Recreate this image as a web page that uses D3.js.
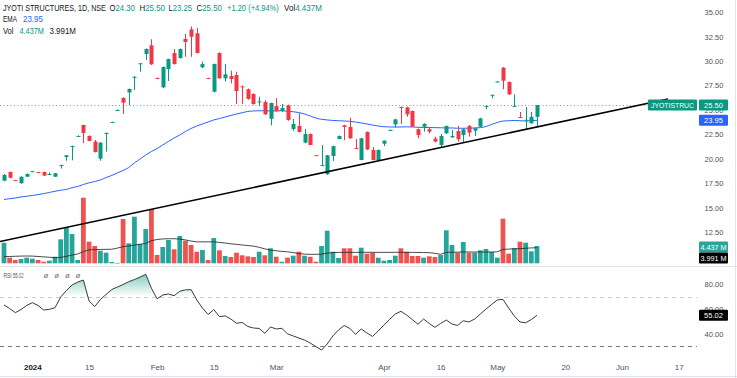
<!DOCTYPE html>
<html><head><meta charset="utf-8">
<script src="https://cdn.jsdelivr.net/npm/d3@7"></script>
<style>
html,body{margin:0;padding:0;background:#fff;}
svg{display:block;font-family:"Liberation Sans",Arial,sans-serif;}
</style></head>
<body><svg id="c" width="737" height="378"></svg>
<script>
// ---------- DATA ----------
const dates = ["2023-12-22","2023-12-26","2023-12-27","2023-12-28","2023-12-29","2024-01-01","2024-01-02","2024-01-03","2024-01-04","2024-01-05",
"2024-01-08","2024-01-09","2024-01-10","2024-01-11","2024-01-12","2024-01-15","2024-01-16","2024-01-17","2024-01-18","2024-01-19",
"2024-01-20","2024-01-23","2024-01-24","2024-01-25","2024-01-29","2024-01-30","2024-01-31","2024-02-01","2024-02-02","2024-02-05",
"2024-02-06","2024-02-07","2024-02-08","2024-02-09","2024-02-12","2024-02-13","2024-02-14","2024-02-15","2024-02-16","2024-02-19",
"2024-02-20","2024-02-21","2024-02-22","2024-02-23","2024-02-26","2024-02-27","2024-02-28","2024-02-29","2024-03-01","2024-03-02",
"2024-03-04","2024-03-05","2024-03-06","2024-03-07","2024-03-11","2024-03-12","2024-03-13","2024-03-14","2024-03-15","2024-03-18",
"2024-03-19","2024-03-20","2024-03-21","2024-03-22","2024-03-26","2024-03-27","2024-03-28","2024-04-01","2024-04-02","2024-04-03",
"2024-04-04","2024-04-05","2024-04-08","2024-04-09","2024-04-10","2024-04-12","2024-04-15","2024-04-16","2024-04-18","2024-04-19",
"2024-04-22","2024-04-23","2024-04-24","2024-04-25","2024-04-26","2024-04-29","2024-04-30","2024-05-02","2024-05-03","2024-05-06",
"2024-05-07","2024-05-08","2024-05-09","2024-05-10","2024-05-13"];

const opens = [17.76,18.65,17.82,17.5,18.17,18.7,18.64,18.65,18.42,18.17,
19.3,20.19,21.25,22.3,23.46,22.34,21.76,20.02,22.6,23.74,
24.97,26.23,26.8,28.35,29.75,30.73,31.62,28.28,27.32,29.2,
30.83,30.32,32.27,33.25,32.85,29.37,28.26,26.87,30.83,28.24,
28.48,28.58,27.42,27.12,26.64,25.82,25.82,24.1,25.4,24.9,
25.48,23.06,23.36,21.66,22.54,20.38,19.3,18.42,20.29,22.03,
23.43,23.26,21.1,19.88,22.75,20.91,19.88,21.55,22.93,23.53,
25.3,25.27,24.9,23.03,23.29,23.03,22.07,21.42,22.61,22.2,
22.85,22.44,23.36,22.88,23.29,25.38,26.5,27.88,29.33,27.87,
25.38,24.28,23.9,23.64,24.30];
const highs = [18.45,18.7,17.85,18.2,18.5,18.75,18.66,18.7,18.6,18.55,
19.4,20.4,21.35,22.4,23.5,22.4,21.93,21.7,22.7,23.8,
25.05,26.3,27.2,28.45,29.8,31.3,32.24,28.3,29.45,30.25,
31.24,31.3,32.78,33.55,33.4,29.95,28.3,29.75,30.9,29.71,
29.02,28.92,27.5,27.2,26.7,26.36,26.0,25.75,26.2,25.61,
25.55,24.08,24.66,23.06,22.6,20.4,21.42,20.4,21.35,22.4,
23.5,24.21,22.03,22.15,22.8,21.21,20.95,21.9,23.0,24.1,
25.35,25.35,24.95,23.1,23.65,23.23,22.27,22.54,23.4,22.96,
23.36,23.1,23.47,23.2,24.2,25.45,26.58,27.95,29.4,27.9,
26.6,24.8,25.3,24.8,25.50];
const lows = [17.7,18.0,17.75,17.45,18.15,18.68,18.6,18.25,18.35,18.15,
19.0,19.8,19.85,22.25,21.6,21.8,20.65,19.81,20.73,23.7,
24.9,24.6,25.5,27.05,28.92,30.12,29.6,28.15,27.25,27.97,
29.65,30.25,30.45,30.45,30.8,29.3,28.2,26.8,28.2,27.9,
27.73,25.61,25.6,26.05,25.55,25.4,24.5,23.43,24.85,24.8,
23.9,22.88,22.7,21.6,21.38,20.3,19.25,18.35,19.78,22.0,
21.93,22.05,21.0,19.85,20.9,19.85,19.85,21.31,22.9,23.19,
23.57,24.31,23.25,22.1,22.78,22.61,21.7,21.18,22.55,22.15,
21.76,21.66,22.27,22.34,23.25,25.07,26.2,27.85,27.12,26.55,
25.35,24.2,23.02,23.6,23.25];
const closes = [18.35,18.07,17.78,18.17,18.45,18.73,18.6,18.28,18.45,18.52,
19.36,20.36,21.3,22.34,22.65,21.83,20.7,21.66,22.65,23.77,
25.0,25.75,27.15,28.4,29.78,31.24,29.68,28.22,29.4,30.22,
29.71,31.24,31.96,32.5,30.83,29.7,28.22,29.71,28.24,28.65,
28.17,26.94,27.36,26.13,25.61,25.88,24.56,25.72,24.9,25.2,
23.98,23.57,22.75,22.54,21.42,20.34,19.36,20.36,21.3,22.34,
23.26,22.1,21.04,22.1,20.96,19.88,20.91,21.86,22.96,24.04,
25.25,24.56,23.3,22.44,23.57,22.78,21.76,22.34,23.36,22.34,
22.0,23.03,22.68,23.13,24.14,25.42,26.55,27.92,28.0,26.6,
25.42,24.22,24.0,24.30,25.50];
// volume in millions
const volumes = [5.28,1.44,0.85,1.1,1.44,1.18,0.85,0.41,0.67,1.69,
6.15,9.23,7.51,0.85,16.82,5.54,4.44,3.23,2.72,0.33,
0.1,11.36,5.13,11.95,4.95,8.79,13.92,2.13,4.18,5.97,
3.59,7.0,5.79,4.69,2.97,3.41,0.85,6.49,3.33,1.87,
1.62,2.72,2.05,1.79,1.62,2.97,2.05,3.85,1.69,0.41,
1.44,1.95,2.97,1.95,1.69,0.41,4.44,8.36,2.97,1.36,
3.85,3.85,1.95,4.0,2.46,2.72,1.44,0.67,0.85,1.95,
3.85,2.97,1.87,1.87,1.44,1.79,1.62,2.13,8.46,4.69,
2.72,5.46,2.72,2.72,3.33,3.67,2.9,1.44,11.44,2.46,
3.92,5.54,5.28,3.08,4.437];
const volumeMA = [1.7,1.75,1.8,1.85,1.87,1.85,1.75,1.65,1.55,1.45,
1.5,1.8,2.1,2.4,3.0,3.45,3.5,3.55,3.58,3.6,
3.9,4.25,4.45,4.65,4.9,5.1,5.8,6.1,6.25,6.3,
6.3,6.2,6.0,5.7,5.5,5.5,5.5,5.5,5.35,5.2,
5.0,4.85,4.7,4.55,4.4,4.1,3.7,3.4,3.2,3.05,
2.95,2.75,2.5,2.35,2.3,2.3,2.35,2.6,2.75,2.8,
2.8,2.8,2.8,2.82,2.82,2.82,2.8,2.8,2.8,2.82,
2.82,2.8,2.8,2.78,2.75,2.72,2.55,2.32,2.8,2.85,
2.85,2.9,2.9,2.9,2.9,2.9,2.9,2.95,3.55,3.65,
3.7,3.75,3.85,3.95,3.991];
const ema = [15.84,15.92,15.99,16.1,16.17,16.25,16.34,16.44,16.56,16.68,
16.79,16.87,17.04,17.17,17.37,17.55,17.68,17.84,18.09,18.3,
18.55,18.81,19.11,19.58,19.98,20.39,20.75,21.06,21.42,21.78,
22.13,22.44,22.8,23.11,23.36,23.57,23.77,23.98,24.13,24.28,
24.44,24.59,24.72,24.85,24.9,24.92,24.92,24.9,24.9,24.92,
24.87,24.82,24.74,24.59,24.39,24.18,24.05,23.98,23.93,23.9,
23.87,23.84,23.77,23.67,23.57,23.46,23.36,23.29,23.26,23.26,
23.26,23.28,23.26,23.23,23.21,23.21,23.19,23.18,23.16,23.16,
23.13,23.13,23.14,23.16,23.19,23.31,23.52,23.72,23.87,23.9,
23.93,23.9,23.87,23.9,23.95];
const rsi = [63.3,60.4,57.1,59.6,62.9,65.1,62.9,59.2,59.8,61.1,
69.7,74.9,79.3,81.7,83.3,66.5,62.0,67.7,71.7,75.7,
77.7,79.7,82.0,83.7,85.7,87.9,76.7,68.2,71.3,72.1,
70.7,74.3,75.4,75.6,67.3,60.8,55.6,59.6,53.9,54.5,
52.0,48.6,49.2,46.0,44.8,44.4,40.5,45.6,44.0,44.5,
40.1,38.4,36.7,35.1,32.7,29.9,27.1,31.9,38.4,43.2,
46.8,44.4,39.7,44.0,40.8,38.0,42.4,47.2,51.6,56.0,
58.2,55.2,51.6,47.8,52.0,48.4,45.3,48.4,51.2,48.0,
46.8,50.6,49.6,52.0,56.0,60.0,63.7,67.3,67.8,60.8,
54.4,49.6,49.0,51.6,55.02];

const priceTicks = [12.5,15,17.5,20,22.5,25,27.5,30,32.5,35];
const rsiTicks = [40,60,80];
const rsiBands = [70,30];
const timeTickLabels = ["2024","15","Feb","15","Mar","Apr","16","May","20","Jun","17"];
const timeTickIndex = [5,15,27,37,48,67,77,87,99,109,119];
const trendIndex = [-0.7,117.1];
const trendPrice = [11.53,26.12];

// ---------- CHART ----------
const UP="#089981", DOWN="#F23645", VUP="#26a69a", VDOWN="#ef5350", BLUE="#2962FF", TXT="#131722";
const svg = d3.select("#c");
const n = closes.length, last = n-1;
const x = d3.scaleLinear().domain([0, 94]).range([4, 537]);
const yP = d3.scaleLinear().domain([12.5, 35]).range([232.1, 12.3]);
const yV = d3.scaleLinear().domain([0, 10]).range([263.3, 224.3]);
const yR = d3.scaleLinear().domain([30, 70]).range([346.4, 296.6]);
const paneR = 697;

svg.append("rect").attr("width",737).attr("height",378).attr("fill","#fff");
const defs = svg.append("defs");
defs.append("clipPath").attr("id","cp").append("rect").attr("x",0).attr("y",0).attr("width",paneR).attr("height",265);
defs.append("clipPath").attr("id","cr").append("rect").attr("x",0).attr("y",267).attr("width",paneR).attr("height",90);

// separators / frame
svg.append("line").attr("x1",0).attr("x2",737).attr("y1",266.5).attr("y2",266.5).attr("stroke","#e0e3eb");
svg.append("line").attr("x1",735.5).attr("x2",735.5).attr("y1",0).attr("y2",378).attr("stroke","#e0e3eb");
svg.append("line").attr("x1",0).attr("x2",737).attr("y1",376.5).attr("y2",376.5).attr("stroke","#e0e3eb");

const pane = svg.append("g").attr("clip-path","url(#cp)");
const idx = d3.range(n);
const up = i => closes[i] >= opens[i];

// volume
const bw = (x(1)-x(0));
pane.append("g").selectAll("rect").data(idx).join("rect")
  .attr("x", i => x(i) - bw*0.42).attr("width", bw*0.84)
  .attr("y", i => yV(volumes[i])).attr("height", i => Math.max(0.6, yV(0)-yV(volumes[i])))
  .attr("fill", i => up(i) ? VUP : VDOWN);
pane.append("path").datum(idx)
  .attr("d", d3.line().x(i=>x(i)).y(i=>yV(volumeMA[i])))
  .attr("fill","none").attr("stroke","#2a2a2a").attr("stroke-width",1).attr("stroke-opacity",0.85);

// price line (last close)
pane.append("line").attr("x1",0).attr("x2",paneR)
  .attr("y1",Math.round(yP(closes[last]))+0.5).attr("y2",Math.round(yP(closes[last]))+0.5)
  .attr("stroke",UP).attr("stroke-dasharray","1,2.5").attr("stroke-opacity",0.7);

// EMA
pane.append("path").datum(idx)
  .attr("d", d3.line().curve(d3.curveMonotoneX).x(i=>x(i)).y(i=>yP(ema[i])))
  .attr("fill","none").attr("stroke",BLUE).attr("stroke-width",1);

// candles
const cg = pane.append("g");
cg.selectAll("line").data(idx).join("line")
  .attr("x1", i => Math.round(x(i))+0.5).attr("x2", i => Math.round(x(i))+0.5)
  .attr("y1", i => yP(highs[i])).attr("y2", i => yP(lows[i]))
  .attr("stroke", i => up(i) ? UP : DOWN).attr("stroke-width",1);
cg.selectAll("rect").data(idx).join("rect")
  .attr("x", i => Math.round(x(i))-1.5).attr("width", 4)
  .attr("y", i => yP(Math.max(opens[i],closes[i])))
  .attr("height", i => Math.max(1, Math.abs(yP(opens[i])-yP(closes[i]))))
  .attr("fill", i => up(i) ? UP : DOWN);

// trend line
pane.append("line")
  .attr("x1", x(trendIndex[0])).attr("y1", yP(trendPrice[0]))
  .attr("x2", x(trendIndex[1])).attr("y2", yP(trendPrice[1]))
  .attr("stroke","#000").attr("stroke-width",1.6);

// ---------- RSI pane ----------
const rp = svg.append("g").attr("clip-path","url(#cr)");
rsiBands.forEach((b,k)=>{
  rp.append("line").attr("x1",0).attr("x2",paneR).attr("y1",Math.round(yR(b))+0.5).attr("y2",Math.round(yR(b))+0.5)
    .attr("stroke", k===0 ? "#c8cad0" : "#787b86").attr("stroke-dasharray","4,4");
});
function withCross(vals, level){
  const pts=[];
  for(let i=0;i<vals.length;i++){
    pts.push([i,vals[i]]);
    if(i<vals.length-1 && (vals[i]-level)*(vals[i+1]-level)<0){
      const t=(level-vals[i])/(vals[i+1]-vals[i]);
      pts.push([i+t,level]);
    }
  }
  return pts;
}
const g1 = defs.append("linearGradient").attr("id","gUp").attr("gradientUnits","userSpaceOnUse")
  .attr("x1",0).attr("x2",0).attr("y1",yR(90)).attr("y2",yR(70));
g1.append("stop").attr("offset",0).attr("stop-color",UP).attr("stop-opacity",0.55);
g1.append("stop").attr("offset",1).attr("stop-color",UP).attr("stop-opacity",0);
const g2 = defs.append("linearGradient").attr("id","gDn").attr("gradientUnits","userSpaceOnUse")
  .attr("x1",0).attr("x2",0).attr("y1",yR(10)).attr("y2",yR(30));
g2.append("stop").attr("offset",0).attr("stop-color",DOWN).attr("stop-opacity",0.55);
g2.append("stop").attr("offset",1).attr("stop-color",DOWN).attr("stop-opacity",0);
rp.append("path").datum(withCross(rsi,70))
  .attr("d", d3.area().x(d=>x(d[0])).y0(yR(70)).y1(d=>yR(Math.max(d[1],70))))
  .attr("fill","url(#gUp)");
rp.append("path").datum(withCross(rsi,30))
  .attr("d", d3.area().x(d=>x(d[0])).y0(yR(30)).y1(d=>yR(Math.min(d[1],30))))
  .attr("fill","url(#gDn)");
rp.append("path").datum(idx)
  .attr("d", d3.line().x(i=>x(i)).y(i=>yR(rsi[i])))
  .attr("fill","none").attr("stroke","#3a3a3a").attr("stroke-width",1);

// ---------- Axes ----------
const fmt = d => d.toFixed(2);
const ay = svg.append("g").attr("transform",`translate(${paneR},0)`)
  .call(d3.axisRight(yP).tickValues(priceTicks).tickFormat(fmt).tickSize(0).tickPadding(17));
const ar = svg.append("g").attr("transform",`translate(${paneR},0)`)
  .call(d3.axisRight(yR).tickValues(rsiTicks).tickFormat(fmt).tickSize(0).tickPadding(17));
[ay,ar].forEach(a=>{
  a.select(".domain").remove();
  a.selectAll("text").attr("text-anchor","middle").attr("fill","#50535e")
    .style("font-size","7.5px").style("font-family","'Liberation Sans',Arial,sans-serif");
});
const ax = svg.append("g").attr("transform","translate(0,358)")
  .call(d3.axisBottom(x).tickValues(timeTickIndex).tickFormat((d,i)=>timeTickLabels[i]).tickSize(0).tickPadding(6));
ax.select(".domain").remove();
ax.selectAll("text").attr("fill",(d,i)=> i===0 ? TXT : "#50535e")
  .style("font-weight",(d,i)=> i===0 ? "bold" : "normal")
  .style("font-size","8px").style("font-family","'Liberation Sans',Arial,sans-serif");

// ---------- scale labels ----------
function box(x0,w,cy,fill,str,len){
  svg.append("rect").attr("x",x0).attr("y",cy-5.5).attr("width",w).attr("height",11).attr("fill",fill).attr("rx",1);
  const g = svg.append("g").attr("transform",`translate(${x0+w/2},${cy})`);
  const t = g.append("text").attr("x",0).attr("y",0).attr("dy","0.35em").attr("text-anchor","middle")
    .attr("fill","#fff").style("font-size","7.5px").text(str);
  if(len){
    const nat = t.node().getComputedTextLength();
    if(nat>len) g.attr("transform",`translate(${x0+w/2},${cy}) scale(${len/nat},1)`);
  }
}
const yLast = yP(closes[last]);
box(648,49,yLast,UP,"JYOTISTRUC",43);
box(699,29,yLast,UP,fmt(closes[last]));
box(699,29,yP(ema[last]),BLUE,fmt(ema[last]));
const vy = yV(volumes[last])+1;
box(699,29,vy,VUP,volumes[last].toFixed(3)+" M",26);
box(699,29,vy+11,"#000",volumeMA[last].toFixed(3)+" M",26);
box(699,29,yR(rsi[last]),"#000",fmt(rsi[last]));

// ---------- legends ----------
// text squeezed horizontally to a target width via a scale transform
function txt(x0,cy,parts,len,size){
  const g = svg.append("g").attr("transform",`translate(${x0},${cy})`);
  const t = g.append("text").attr("x",0).attr("y",0).attr("dy","0.35em").style("font-size",(size||8.5)+"px");
  if(typeof parts==="string") parts=[[parts,TXT]];
  parts.forEach(p=> t.append("tspan").attr("fill",p[1]).text(p[0]));
  if(len){
    const nat = t.node().getComputedTextLength();
    g.attr("transform",`translate(${x0},${cy}) scale(${len/nat},1)`);
  }
  return t;
}
const chg = closes[last]-closes[last-1];
const pct = chg/closes[last-1]*100;
const L1 = 8.5;
txt(3,L1,[["JYOTI STRUCTURES, 1D, NSE",TXT]],103);
txt(109.5,L1,[["O",TXT],[fmt(opens[last]),UP]],25.5);
txt(139.5,L1,[["H",TXT],[fmt(highs[last]),UP]],25.5);
txt(168.5,L1,[["L",TXT],[fmt(lows[last]),UP]],23.5);
txt(196.5,L1,[["C",TXT],[fmt(closes[last]),UP]],25.5);
txt(227,L1,[[(chg>=0?"+":"")+chg.toFixed(2)+" ("+(pct>=0?"+":"")+pct.toFixed(2)+"%)",UP]],52);
txt(284,L1,[["Vol",TXT],[volumes[last].toFixed(3)+"M",UP]],38);
txt(3,19.5,[["EMA",TXT]],14); txt(23,19.5,[[fmt(ema[last]),BLUE]],20);
txt(3,31,[["Vol",TXT]],10.5); txt(19.5,31,[[volumes[last].toFixed(3)+"M",UP]],24.5); txt(49.5,31,[[volumeMA[last].toFixed(3)+"M",TXT]],26.5);
txt(3.5,275,[["RSI","#50535e"]],8,8); txt(13,275,[[fmt(rsi[last]),"#50535e"]],10.5,8);
["ø","ø","ø","ø"].forEach((s,k)=> txt(43.5+10.7*k,275,[[s,"#787b86"]],null,8));
</script></body></html>
